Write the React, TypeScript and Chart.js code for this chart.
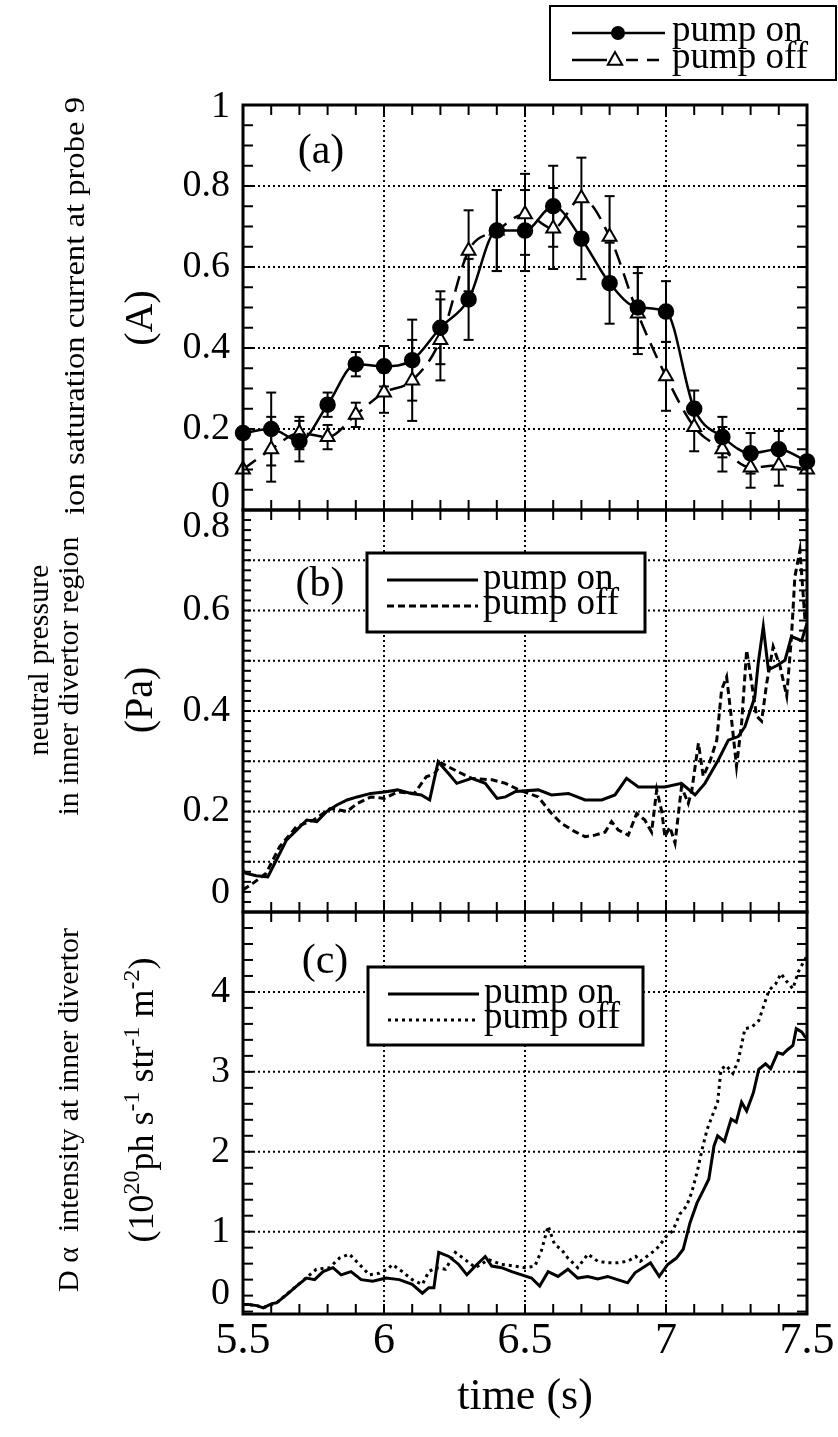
import React, { useEffect, useRef } from "react";
import { Chart, registerables } from "chart.js";

Chart.register(...registerables);

const FONT = "'Liberation Serif', 'Times New Roman', serif";

// ===== Panel (a): ion saturation current at probe 9 (A) =====
const aTimes = [5.5, 5.6, 5.7, 5.8, 5.9, 6.0, 6.1, 6.2, 6.3, 6.4, 6.5, 6.6, 6.7, 6.8, 6.9, 7.0, 7.1, 7.2, 7.3, 7.4, 7.5];
const aPumpOn = [0.19, 0.2, 0.17, 0.26, 0.36, 0.355, 0.37, 0.45, 0.52, 0.69, 0.69, 0.75, 0.67, 0.56, 0.5, 0.49, 0.25, 0.18, 0.14, 0.15, 0.12];
const aPumpOnErr = [0, 0.09, 0.05, 0.03, 0.03, 0.05, 0.1, 0.09, 0.1, 0.1, 0.1, 0.1, 0.1, 0.1, 0.1, 0.075, 0.045, 0.05, 0.05, 0.045, 0];
const aPumpOff = [0.1, 0.15, 0.19, 0.18, 0.235, 0.29, 0.32, 0.42, 0.64, 0.69, 0.73, 0.695, 0.77, 0.675, 0.485, 0.33, 0.205, 0.15, 0.105, 0.11, 0.1];
const aPumpOffErr = [0, 0.08, 0.04, 0.03, 0.03, 0.05, 0.1, 0.1, 0.1, 0.1, 0.1, 0.1, 0.1, 0.1, 0.1, 0.085, 0.06, 0.055, 0.05, 0.05, 0];

// ===== Panel (b): neutral pressure in inner divertor region (Pa) =====
const bOnTime = [5.5, 5.511, 5.547, 5.588, 5.618, 5.654, 5.69, 5.726, 5.762, 5.797, 5.833, 5.869, 5.905, 5.953, 6.001, 6.048, 6.096, 6.132, 6.162, 6.192, 6.228, 6.258, 6.311, 6.359, 6.401, 6.431, 6.467, 6.547, 6.594, 6.654, 6.713, 6.772, 6.819, 6.86, 6.902, 6.949, 6.996, 7.055, 7.103, 7.138, 7.185, 7.221, 7.256, 7.28, 7.315, 7.327, 7.345, 7.363, 7.392, 7.422, 7.445, 7.481, 7.5];
const bOnPressure = [0.083, 0.077, 0.072, 0.07, 0.103, 0.143, 0.163, 0.183, 0.18, 0.2, 0.213, 0.223, 0.229, 0.236, 0.239, 0.243, 0.236, 0.233, 0.223, 0.299, 0.276, 0.256, 0.266, 0.256, 0.226, 0.229, 0.24, 0.243, 0.233, 0.236, 0.223, 0.223, 0.233, 0.266, 0.249, 0.249, 0.249, 0.256, 0.233, 0.256, 0.302, 0.342, 0.349, 0.369, 0.428, 0.495, 0.568, 0.482, 0.49, 0.501, 0.548, 0.54, 0.574];
const bOffTime = [5.5, 5.535, 5.582, 5.63, 5.69, 5.75, 5.809, 5.869, 5.905, 5.953, 6.001, 6.048, 6.108, 6.15, 6.18, 6.204, 6.263, 6.311, 6.383, 6.431, 6.479, 6.547, 6.594, 6.63, 6.677, 6.713, 6.748, 6.784, 6.807, 6.831, 6.866, 6.896, 6.925, 6.949, 6.967, 6.985, 6.996, 7.014, 7.032, 7.055, 7.079, 7.091, 7.115, 7.132, 7.156, 7.18, 7.197, 7.215, 7.233, 7.25, 7.268, 7.286, 7.304, 7.321, 7.339, 7.357, 7.38, 7.404, 7.428, 7.445, 7.457, 7.475, 7.493, 7.5];
const bOffPressure = [0.044, 0.057, 0.077, 0.13, 0.17, 0.183, 0.206, 0.2, 0.216, 0.229, 0.226, 0.239, 0.236, 0.269, 0.276, 0.296, 0.279, 0.266, 0.263, 0.256, 0.243, 0.229, 0.196, 0.176, 0.16, 0.15, 0.153, 0.159, 0.18, 0.163, 0.153, 0.196, 0.183, 0.159, 0.243, 0.2, 0.15, 0.169, 0.137, 0.249, 0.216, 0.24, 0.336, 0.27, 0.3, 0.342, 0.442, 0.468, 0.38, 0.29, 0.375, 0.521, 0.455, 0.39, 0.38, 0.455, 0.528, 0.49, 0.43, 0.548, 0.667, 0.72, 0.58, 0.614];

// ===== Panel (c): D-alpha intensity at inner divertor (1e20 ph s-1 str-1 m-2) =====
const cOnTime = [5.5, 5.519, 5.549, 5.572, 5.602, 5.619, 5.654, 5.69, 5.725, 5.754, 5.784, 5.819, 5.848, 5.883, 5.919, 5.96, 6.007, 6.054, 6.1, 6.136, 6.159, 6.177, 6.194, 6.23, 6.265, 6.294, 6.324, 6.359, 6.382, 6.417, 6.453, 6.488, 6.523, 6.552, 6.582, 6.617, 6.652, 6.687, 6.723, 6.758, 6.793, 6.828, 6.864, 6.89, 6.945, 6.976, 7.006, 7.037, 7.061, 7.085, 7.11, 7.134, 7.152, 7.17, 7.183, 7.207, 7.231, 7.249, 7.268, 7.286, 7.31, 7.329, 7.353, 7.371, 7.396, 7.414, 7.432, 7.45, 7.462, 7.481, 7.493, 7.5];
const cOnIntensity = [0.09, 0.088, 0.075, 0.046, 0.1, 0.11, 0.21, 0.32, 0.42, 0.4, 0.5, 0.55, 0.46, 0.5, 0.4, 0.38, 0.42, 0.4, 0.34, 0.23, 0.3, 0.3, 0.74, 0.69, 0.59, 0.46, 0.57, 0.69, 0.57, 0.55, 0.5, 0.46, 0.42, 0.32, 0.5, 0.44, 0.53, 0.42, 0.44, 0.41, 0.44, 0.4, 0.36, 0.485, 0.61, 0.44, 0.59, 0.67, 0.78, 1.11, 1.36, 1.53, 1.66, 2.07, 2.2, 2.13, 2.41, 2.37, 2.62, 2.51, 2.74, 3.03, 3.1, 3.04, 3.24, 3.22, 3.28, 3.33, 3.54, 3.5, 3.44, 3.42];
const cOffTime = [5.5, 5.519, 5.549, 5.572, 5.619, 5.69, 5.76, 5.807, 5.842, 5.877, 5.913, 5.948, 5.983, 6.012, 6.03, 6.065, 6.1, 6.136, 6.159, 6.183, 6.218, 6.253, 6.288, 6.324, 6.371, 6.417, 6.464, 6.5, 6.535, 6.558, 6.582, 6.605, 6.629, 6.652, 6.687, 6.723, 6.758, 6.793, 6.828, 6.864, 6.893, 6.909, 6.951, 6.976, 7.0, 7.024, 7.049, 7.073, 7.091, 7.11, 7.128, 7.146, 7.164, 7.183, 7.195, 7.213, 7.237, 7.256, 7.28, 7.304, 7.329, 7.347, 7.365, 7.389, 7.408, 7.426, 7.45, 7.469, 7.487, 7.5];
const cOffIntensity = [0.09, 0.088, 0.075, 0.05, 0.11, 0.32, 0.53, 0.55, 0.67, 0.72, 0.59, 0.46, 0.48, 0.53, 0.59, 0.5, 0.4, 0.34, 0.5, 0.55, 0.53, 0.74, 0.65, 0.55, 0.65, 0.59, 0.57, 0.55, 0.57, 0.76, 1.07, 0.84, 0.78, 0.67, 0.55, 0.72, 0.63, 0.61, 0.61, 0.63, 0.69, 0.63, 0.74, 0.82, 0.94, 1.01, 1.22, 1.32, 1.49, 1.74, 2.03, 2.28, 2.45, 2.62, 3.03, 3.08, 2.98, 3.14, 3.54, 3.56, 3.64, 3.83, 4.02, 4.1, 4.23, 4.14, 4.04, 4.25, 4.37, 4.45];

// ===== Axes, ticks, grid =====
const xTickValues = [5.5, 6, 6.5, 7, 7.5];
const xGridValues = [6, 6.5, 7];
const aTickValues = [0, 0.2, 0.4, 0.6, 0.8, 1];
const aTickLabels = ["0", "0.2", "0.4", "0.6", "0.8", "1"];
const bTickValues = [0, 0.2, 0.4, 0.6, 0.8];
const bTickLabels = ["0", "0.2", "0.4", "0.6", "0.8"];
const cTickValues = [0, 1, 2, 3, 4];
const cTickLabels = ["0", "1", "2", "3", "4"];
const aGridValues = [0.2, 0.4, 0.6, 0.8];
const bGridValues = [0.1, 0.2, 0.3, 0.4, 0.5, 0.6, 0.7];
const cGridValues = [1, 2, 3, 4];

const pts = (xs: number[], ys: number[]) =>
  xs.slice(0, Math.min(xs.length, ys.length)).map((x, i) => ({ x, y: ys[i] }));

const panels = [
  { id: "ya", minor: 0.05, minorLen: 10, grid: aGridValues, tv: aTickValues, tl: aTickLabels, topShift: 2, bottomShift: 13 },
  { id: "yb", minor: 0.02, minorLen: 8, grid: bGridValues, tv: bTickValues, tl: bTickLabels, topShift: 17, bottomShift: 19 },
  { id: "yc", minor: 0.2, minorLen: 10, grid: cGridValues, tv: cTickValues, tl: cTickLabels, topShift: 0, bottomShift: 20 },
];

function line(ctx: any, x1: number, y1: number, x2: number, y2: number) {
  ctx.beginPath();
  ctx.moveTo(x1, y1);
  ctx.lineTo(x2, y2);
  ctx.stroke();
}

function triangle(ctx: any, cx: number, cy: number, r: number) {
  ctx.beginPath();
  ctx.moveTo(cx, cy - r);
  ctx.lineTo(cx - r * 0.9, cy + r * 0.6);
  ctx.lineTo(cx + r * 0.9, cy + r * 0.6);
  ctx.closePath();
  ctx.fillStyle = "#fff";
  ctx.fill();
  ctx.stroke();
}

// rotated text; if fitLen is given, text is stretched along its direction to that length
function rotText(ctx: any, text: string, cx: number, cy: number, size: number, fitLen?: number) {
  ctx.save();
  ctx.translate(cx, cy);
  ctx.rotate(-Math.PI / 2);
  ctx.font = `${size}px ${FONT}`;
  if (fitLen) {
    const w = ctx.measureText(text).width;
    if (w > 0) ctx.scale(fitLen / w, 1);
  }
  ctx.textAlign = "center";
  ctx.textBaseline = "middle";
  ctx.fillStyle = "#000";
  ctx.fillText(text, 0, 0);
  ctx.restore();
}

function rotRich(ctx: any, parts: [string, boolean][], cx: number, cy: number, size: number, supSize: number) {
  ctx.save();
  ctx.translate(cx, cy);
  ctx.rotate(-Math.PI / 2);
  ctx.fillStyle = "#000";
  ctx.textAlign = "left";
  ctx.textBaseline = "alphabetic";
  let total = 0;
  const widths = parts.map(([t, sup]) => {
    ctx.font = `${sup ? supSize : size}px ${FONT}`;
    const w = ctx.measureText(t).width;
    total += w;
    return w;
  });
  let x = -total / 2;
  parts.forEach(([t, sup], i) => {
    ctx.font = `${sup ? supSize : size}px ${FONT}`;
    ctx.fillText(t, x, sup ? -2 : 12);
    x += widths[i];
  });
  ctx.restore();
}

function errorBars(ctx: any, xs: any, ys: any, t: number[], v: number[], e: number[]) {
  for (let i = 0; i < Math.min(t.length, v.length, e.length); i++) {
    if (!e[i]) continue;
    const px = xs.getPixelForValue(t[i]);
    const y1 = ys.getPixelForValue(v[i] - e[i]);
    const y2 = ys.getPixelForValue(v[i] + e[i]);
    line(ctx, px, y1, px, y2);
    line(ctx, px - 5, y1, px + 5, y1);
    line(ctx, px - 5, y2, px + 5, y2);
  }
}

const decoPlugin = {
  id: "deco",
  beforeDatasetsDraw(chart: any) {
    const { ctx, chartArea, scales } = chart;
    const xs = scales.x;
    ctx.save();
    ctx.strokeStyle = "#000";
    ctx.lineWidth = 2;
    ctx.setLineDash([2, 3]);
    for (const v of xGridValues) {
      const px = xs.getPixelForValue(v);
      line(ctx, px, chartArea.top, px, chartArea.bottom);
    }
    for (const p of panels) {
      const s = scales[p.id];
      for (const v of p.grid) {
        const py = s.getPixelForValue(v);
        line(ctx, chartArea.left, py, chartArea.right, py);
      }
    }
    ctx.setLineDash([]);
    ctx.lineWidth = 2;
    errorBars(ctx, xs, scales.ya, aTimes, aPumpOff, aPumpOffErr);
    errorBars(ctx, xs, scales.ya, aTimes, aPumpOn, aPumpOnErr);
    ctx.restore();
  },
  afterDatasetsDraw(chart: any) {
    const { ctx, chartArea, scales } = chart;
    const xs = scales.x;
    const L = chartArea.left;
    const R = chartArea.right;
    ctx.save();
    ctx.strokeStyle = "#000";
    ctx.fillStyle = "#000";
    ctx.setLineDash([]);
    for (const p of panels) {
      const s = scales[p.id];
      // frame
      ctx.lineWidth = 3;
      ctx.strokeRect(L, s.top, R - L, s.bottom - s.top);
      // inward ticks
      ctx.lineWidth = 2;
      for (let i = 0; i <= 20; i++) {
        const px = xs.getPixelForValue(5.5 + i * 0.1);
        line(ctx, px, s.top, px, s.top + 10);
        line(ctx, px, s.bottom - 10, px, s.bottom);
      }
      const k0 = Math.ceil(s.min / p.minor - 1e-6);
      const k1 = Math.floor(s.max / p.minor + 1e-6);
      for (let k = k0; k <= k1; k++) {
        const py = s.getPixelForValue(k * p.minor);
        line(ctx, L, py, L + p.minorLen, py);
        line(ctx, R - p.minorLen, py, R, py);
      }
      // tick labels
      ctx.font = `38px ${FONT}`;
      ctx.textAlign = "right";
      ctx.textBaseline = "middle";
      p.tv.forEach((v: number, i: number) => {
        let py = s.getPixelForValue(v);
        if (py > s.bottom - 8) py = s.bottom - p.bottomShift;
        else if (py < s.top + 8) py = s.top + p.topShift;
        ctx.fillText(p.tl[i], L - 13, py);
      });
    }

    // panel letters
    ctx.font = `42px ${FONT}`;
    ctx.textAlign = "center";
    ctx.textBaseline = "middle";
    ctx.fillText("(a)", 321, 152);
    ctx.fillText("(b)", 320, 585);
    ctx.fillText("(c)", 325, 962);

    // y titles
    rotText(ctx, "ion saturation current at probe 9", 76, 306, 30, 418);
    rotText(ctx, "(A)", 141, 318, 40);
    rotText(ctx, "neutral pressure", 40, 660, 30);
    rotText(ctx, "in inner divertor region", 70, 676, 30);
    rotText(ctx, "(Pa)", 141, 700, 40);
    rotText(ctx, "D \u03b1  intensity at inner divertor", 70, 1110, 30);
    rotRich(
      ctx,
      [["(10", false], ["20", true], ["ph s", false], ["-1", true], [" str", false], ["-1", true], [" m", false], ["-2", true], [")", false]],
      141,
      1100,
      36,
      24
    );

    // top legend
    ctx.lineWidth = 2;
    ctx.fillStyle = "#fff";
    ctx.fillRect(550, 6, 286, 74);
    ctx.strokeRect(550, 6, 286, 74);
    ctx.lineWidth = 2.5;
    line(ctx, 572, 33, 665, 33);
    ctx.fillStyle = "#000";
    ctx.beginPath();
    ctx.arc(618, 33, 7, 0, Math.PI * 2);
    ctx.fill();
    line(ctx, 572, 60, 607, 60);
    ctx.setLineDash([12, 9]);
    line(ctx, 626, 60, 668, 60);
    ctx.setLineDash([]);
    ctx.lineWidth = 2;
    triangle(ctx, 615, 60, 8);
    ctx.fillStyle = "#000";
    ctx.font = `37px ${FONT}`;
    ctx.textAlign = "left";
    ctx.textBaseline = "middle";
    ctx.fillText("pump on", 672, 31);
    ctx.fillText("pump off", 672, 58);

    // legend (b) and (c)
    const boxes = [
      { x: 367, y: 553, w: 278, h: 79, dash: [7, 4] },
      { x: 368, y: 967, w: 275, h: 78, dash: [3, 4] },
    ];
    for (const b of boxes) {
      ctx.fillStyle = "#fff";
      ctx.fillRect(b.x, b.y, b.w, b.h);
      ctx.lineWidth = 3;
      ctx.strokeRect(b.x, b.y, b.w, b.h);
      const y1 = b.y + 27;
      const y2 = b.y + 53;
      line(ctx, b.x + 20, y1, b.x + 111, y1);
      ctx.setLineDash(b.dash);
      line(ctx, b.x + 20, y2, b.x + 111, y2);
      ctx.setLineDash([]);
      ctx.fillStyle = "#000";
      ctx.font = `37px ${FONT}`;
      ctx.fillText("pump on", b.x + 116, y1 - 1);
      ctx.fillText("pump off", b.x + 116, y2 - 2);
    }
    ctx.restore();
  },
};

export default function App() {
  const ref = useRef<HTMLCanvasElement | null>(null);
  useEffect(() => {
    document.body.style.margin = "0";
    const canvas = ref.current;
    if (!canvas) return;
    const chart = new Chart(canvas, {
      type: "line",
      data: {
        datasets: [
          {
            label: "pump on (a)",
            data: pts(aTimes, aPumpOn),
            yAxisID: "ya",
            borderColor: "#000",
            borderWidth: 2.5,
            cubicInterpolationMode: "monotone",
            pointRadius: 7,
            pointBackgroundColor: "#000",
            pointBorderColor: "#000",
            clip: false,
            order: 1,
          },
          {
            label: "pump off (a)",
            data: pts(aTimes, aPumpOff),
            yAxisID: "ya",
            borderColor: "#000",
            borderWidth: 2.5,
            borderDash: [16, 9],
            cubicInterpolationMode: "monotone",
            pointStyle: "triangle",
            pointRadius: 8,
            pointBackgroundColor: "#fff",
            pointBorderColor: "#000",
            pointBorderWidth: 2,
            clip: false,
            order: 2,
          },
          {
            label: "pump on (b)",
            data: pts(bOnTime, bOnPressure),
            yAxisID: "yb",
            borderColor: "#000",
            borderWidth: 3,
            pointRadius: 0,
            tension: 0,
            order: 1,
          },
          {
            label: "pump off (b)",
            data: pts(bOffTime, bOffPressure),
            yAxisID: "yb",
            borderColor: "#000",
            borderWidth: 3,
            borderDash: [7, 4],
            pointRadius: 0,
            tension: 0,
            order: 2,
          },
          {
            label: "pump on (c)",
            data: pts(cOnTime, cOnIntensity),
            yAxisID: "yc",
            borderColor: "#000",
            borderWidth: 3,
            pointRadius: 0,
            tension: 0,
            order: 1,
          },
          {
            label: "pump off (c)",
            data: pts(cOffTime, cOffIntensity),
            yAxisID: "yc",
            borderColor: "#000",
            borderWidth: 3,
            borderDash: [3, 4],
            pointRadius: 0,
            tension: 0,
            order: 2,
          },
        ],
      },
      options: {
        responsive: false,
        animation: false,
        devicePixelRatio: 1,
        layout: { autoPadding: false, padding: { top: 105, right: 31, left: 0, bottom: 0 } },
        plugins: { legend: { display: false }, tooltip: { enabled: false } },
        events: [],
        scales: {
          x: {
            type: "linear",
            position: "bottom",
            min: 5.5,
            max: 7.5,
            afterFit: (s: any) => {
              s.height = 123;
            },
            afterBuildTicks: (s: any) => {
              s.ticks = xTickValues.map((v) => ({ value: v }));
            },
            ticks: {
              font: { family: FONT, size: 44 },
              color: "#000",
              padding: 1,
              maxRotation: 0,
              autoSkip: false,
              callback: (v: any) => String(v),
            },
            grid: { display: false, drawTicks: false },
            border: { display: false },
            title: {
              display: true,
              text: "time (s)",
              font: { family: FONT, size: 44 },
              color: "#000",
              padding: { top: 0, bottom: 13 },
            },
          },
          yc: {
            type: "linear",
            position: "left",
            stack: "panels",
            stackWeight: 402,
            min: -0.03,
            max: 5,
            afterFit: (s: any) => {
              s.width = 243;
            },
            ticks: { display: false },
            grid: { display: false, drawTicks: false },
            border: { display: false },
          },
          yb: {
            type: "linear",
            position: "left",
            stack: "panels",
            stackWeight: 402,
            min: 0,
            max: 0.8,
            afterFit: (s: any) => {
              s.width = 243;
            },
            ticks: { display: false },
            grid: { display: false, drawTicks: false },
            border: { display: false },
          },
          ya: {
            type: "linear",
            position: "left",
            stack: "panels",
            stackWeight: 405,
            min: 0,
            max: 1,
            afterFit: (s: any) => {
              s.width = 243;
            },
            ticks: { display: false },
            grid: { display: false, drawTicks: false },
            border: { display: false },
          },
        },
      } as any,
      plugins: [decoPlugin],
    });
    return () => chart.destroy();
  }, []);
  return <canvas ref={ref} width={838} height={1437} style={{ display: "block", width: 838, height: 1437 }} />;
}
